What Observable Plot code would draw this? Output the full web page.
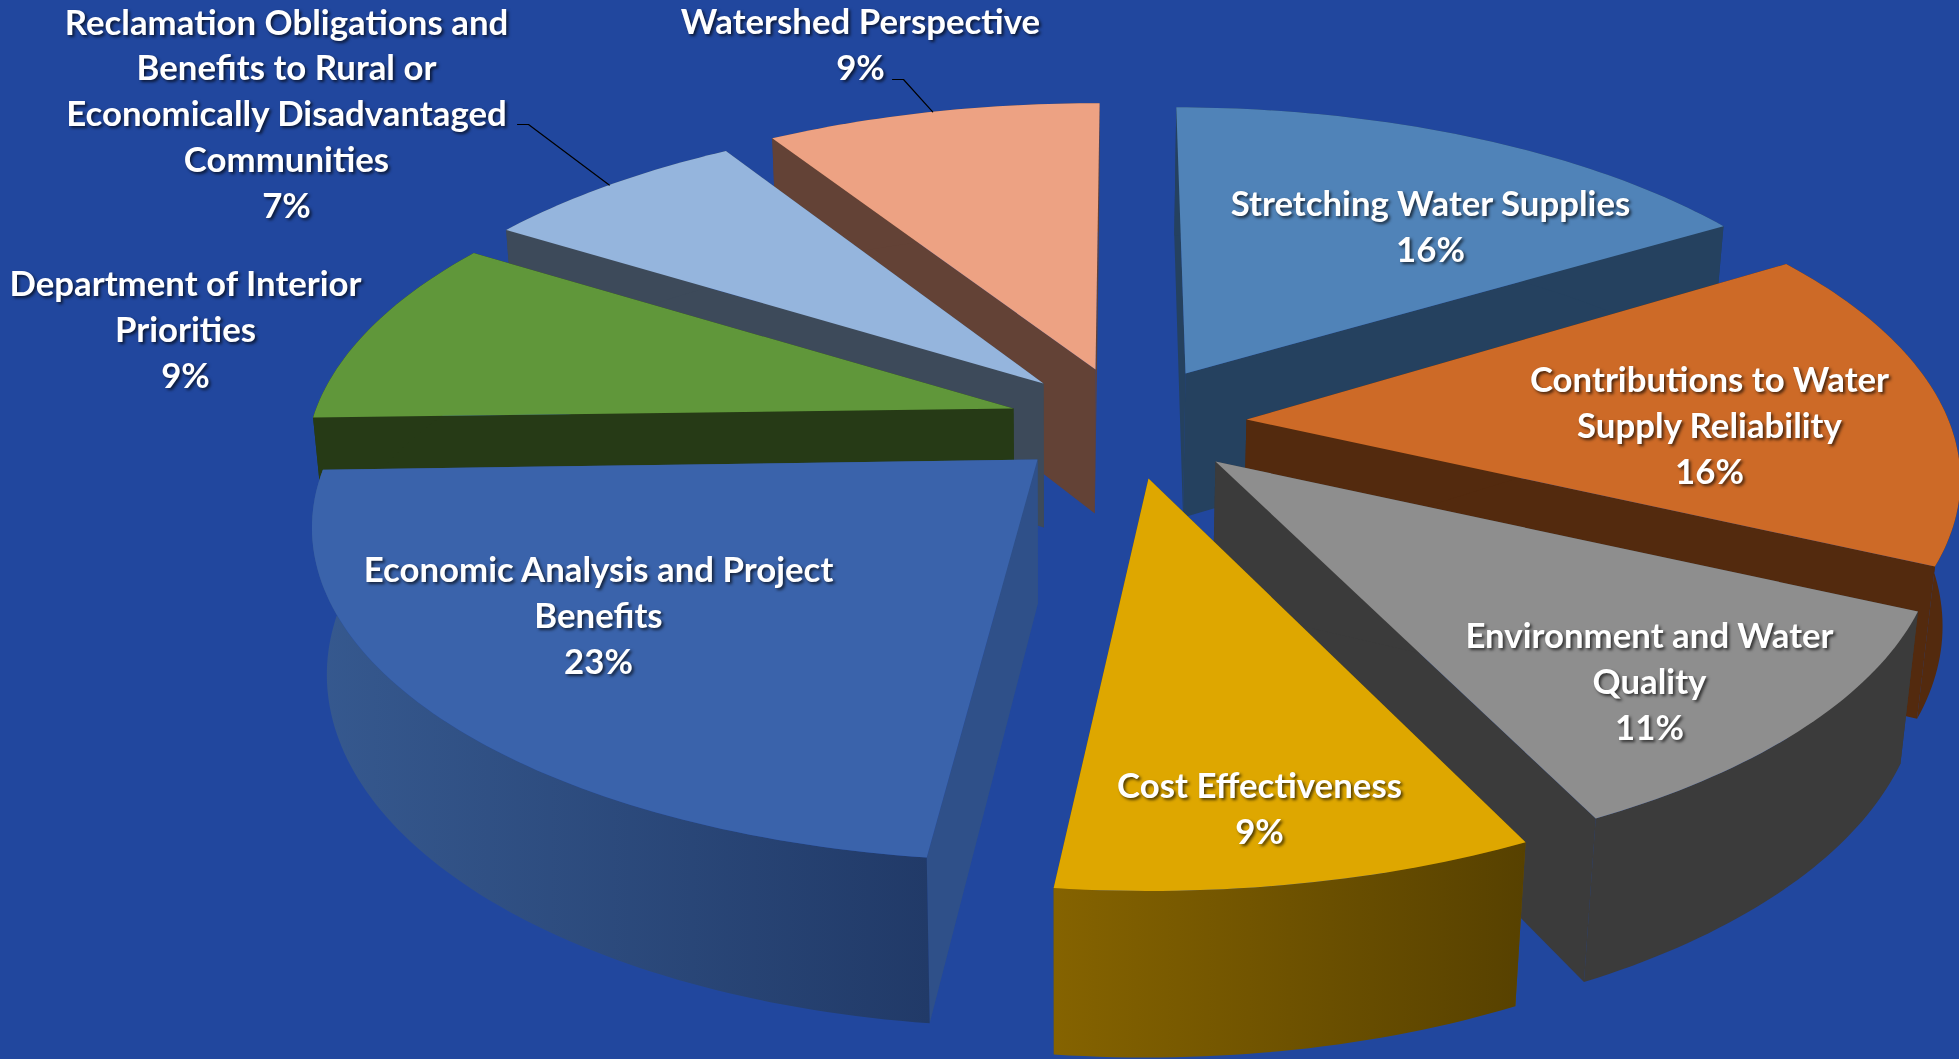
<!DOCTYPE html>
<html>
<head>
<meta charset="utf-8">
<script src="https://cdn.jsdelivr.net/npm/d3@7"></script>
<script src="https://cdn.jsdelivr.net/npm/@observablehq/plot@0.6"></script>
<style>
html,body{margin:0;padding:0;background:#21479e;overflow:hidden}
svg{display:block}
g[aria-label="text"]{filter:drop-shadow(2px 2px 1.5px rgba(0,0,0,.65))}
</style>
</head>
<body>
<div id="chart"></div>
<script>
// ---- data ----
const categories = [
  "Stretching Water Supplies",
  "Contributions to Water\nSupply Reliability",
  "Environment and Water\nQuality",
  "Cost Effectiveness",
  "Economic Analysis and Project\nBenefits",
  "Department of Interior\nPriorities",
  "Reclamation Obligations and\nBenefits to Rural or\nEconomically Disadvantaged\nCommunities",
  "Watershed Perspective"
];
const shares = [16, 16, 11, 9, 23, 9, 7, 9];

// ---- styles ----
const topColors  = ["#5083b8","#cd6a27","#8e8e8e","#dea700","#3a63ab","#60973a","#95b5dd","#eda283"];
const wallColors = ["#25415f","#532a0e","#3b3b3b","#6b5000","#2f5089","#263a16","#3d4a5a","#634236"];
const rimFills   = [null,null,null,"url(#rimCost)","url(#rimEcon)",null,null,null];

// ---- layout of the exploded, tilted pie ----
const W = 1959, H = 1059;
const rx = 713, ry = 323.6, persp = 0.2154, baseDepth = 144, vanishX = 1060, converge = 0.0215 / 160;
const origins = [[1185,373],[1246,419],[1215,461],[1148,478],[1037,459],[1013,408],[1043,383],[1095,369]];
// small corrections (degrees at each slice edge, radius factor at each edge) for the 3D renderer's distortion
const edgeTrim  = [[-0.9,1.3],[0,0],[0,-0.6],[0,-1.2],[0,-1.8],[-1.6,0],[-0.2,0.6],[0,0.4]];
const edgeScale = [[1,0.977],[1,0.972],[0.99,0.99],[1,1],[0.98,0.996],[0.977,1],[0.992,1],[1,1]];
const paintOrder = [0,7,6,5,1,4,2,3];
const labelAt = [[1430,224],[1709,423],[1649,679],[1259,806],[598,613],[185,327],[286,111],[860,42]];
const leaders = {6:[[517,124],[528,124]], 7:[[892,79],[903,79]]};

const total = d3.sum(shares);
let acc = 0;
const slices = shares.map((v,i)=>{
  const a0 = acc/total*360 + edgeTrim[i][0]; acc += v;
  return {i, a0, a1: acc/total*360 + edgeTrim[i][1], r0: edgeScale[i][0], r1: edgeScale[i][1]};
});

function project(sl, f){
  const deg = sl.a0+(sl.a1-sl.a0)*f, r = sl.r0+(sl.r1-sl.r0)*f;
  const t = deg*Math.PI/180, X = r*Math.sin(t), Y = -r*Math.cos(t), s = 1/(1-persp*Y);
  const [ox,oy] = origins[sl.i];
  return {x: ox+rx*X*s, y: oy+ry*Y*s, s};
}
function drop(p, s){
  const d = baseDepth*Math.pow(s,0.6);
  return {x: p.x-(p.x-vanishX)*converge*d, y: p.y+d};
}
function apex(i){ const [x,y]=origins[i]; return {x,y,s:1}; }
function rimTop(sl){
  const n = Math.ceil(sl.a1-sl.a0), pts=[];
  for(let k=0;k<=n;k++) pts.push(project(sl, k/n));
  return pts;
}
const poly = (pts, fill) => Plot.line(pts,{x:"x",y:"y",fill,stroke:"none",curve:"linear"});

const marks = [];
// gradients
marks.push(()=>{
  const defs = d3.create("svg:defs");
  const g = (id,a,b)=>{const l=defs.append("linearGradient").attr("id",id);
    l.append("stop").attr("offset","0").attr("stop-color",a);
    l.append("stop").attr("offset","1").attr("stop-color",b);};
  g("rimCost","#856300","#574100");
  g("rimEcon","#36598f","#213a68");
  return defs.node();
});
for(const i of paintOrder){
  const sl = slices[i], rim = rimTop(sl), A = apex(i), Ad = drop(A,1);
  const first = rim[0], last = rim[rim.length-1];
  const low = rim.map(p=>drop(p,p.s));
  marks.push(poly([A,last,low[low.length-1],Ad], wallColors[i]));
  marks.push(poly([A,first,low[0],Ad], wallColors[i]));
  marks.push(poly([...rim,...low.slice().reverse()], rimFills[i]||wallColors[i]));
  marks.push(poly([A,...rim], topColors[i]));
}
// leader lines to the middle of the slice's rim
for(const k of Object.keys(leaders)){
  const end = project(slices[k], 0.5);
  marks.push(Plot.line([...leaders[k].map(([x,y])=>({x,y})),end],{x:"x",y:"y",stroke:"#000",strokeWidth:1.2,curve:"linear"}));
}
// labels
const labels = categories.map((c,i)=>({text:`${c}\n${shares[i]}%`, x:labelAt[i][0], y:labelAt[i][1]}));
marks.push(Plot.text(labels,{x:"x",y:"y",text:"text",fill:"#fff",fontFamily:"Lato",fontWeight:700,fontSize:34.8,lineHeight:1.315,textAnchor:"middle",lineAnchor:"middle"}));

const chart = Plot.plot({
  width:W,height:H,margin:0,
  style:{background:"#21479e",fontFamily:"Lato"},
  x:{domain:[0,W],range:[0,W],axis:null},
  y:{domain:[0,H],range:[0,H],axis:null},
  marks
});
document.getElementById("chart").append(chart);
</script>
</body>
</html>
